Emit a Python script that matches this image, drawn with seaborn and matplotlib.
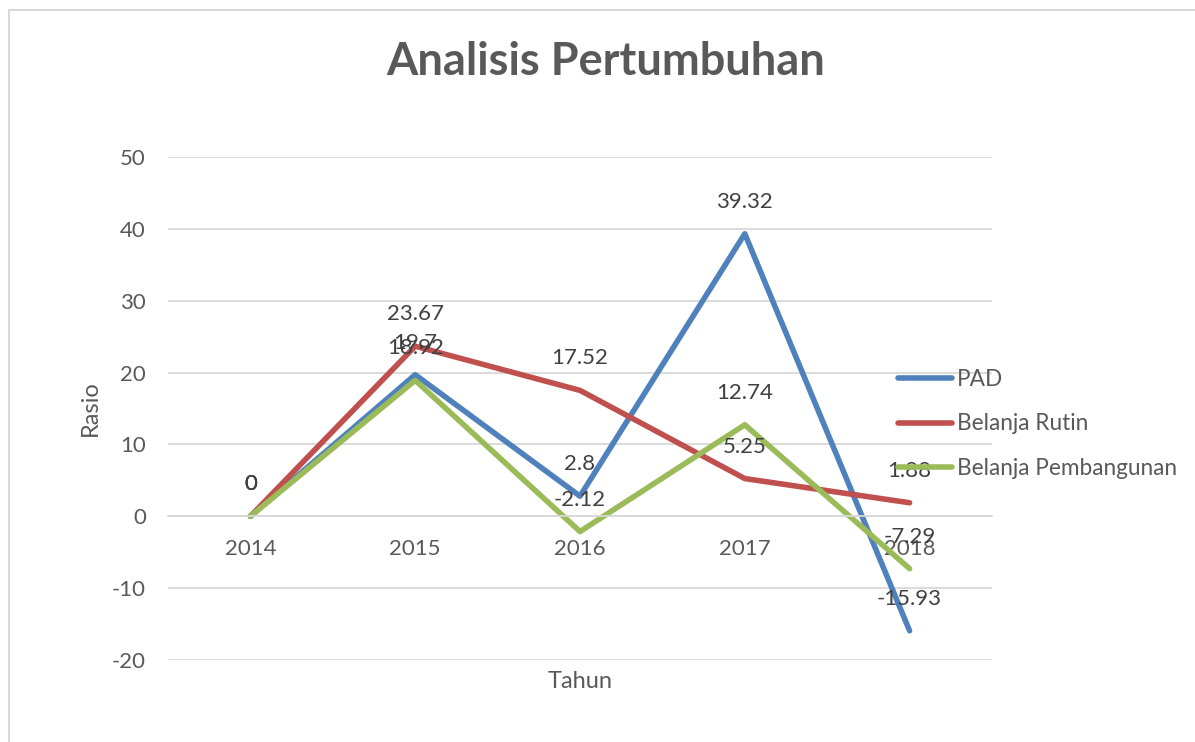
import pandas as pd
import seaborn as sns
from matplotlib import pyplot as plt
from matplotlib.patches import Rectangle

years = ["2014", "2015", "2016", "2017", "2018"]
pad = [0, 19.7, 2.8, 39.32, -15.93]
belanja_rutin = [0, 23.67, 17.52, 5.25, 1.88]
belanja_pembangunan = [0, 18.92, -2.12, 12.74, -7.29]
series_names = ["PAD", "Belanja Rutin", "Belanja Pembangunan"]
colors = ["#4F81BD", "#C0504D", "#9BBB59"]
y_ticks = [-20, -10, 0, 10, 20, 30, 40, 50]

TEXT = "#595959"
GRID = "#D9D9D9"


def main():
    sns.set_theme(style="white")
    plt.rcParams['font.family'] = ['Lato', 'DejaVu Sans']
    plt.rcParams['axes.unicode_minus'] = False

    df = pd.DataFrame({
        "Tahun": years * 3,
        "Rasio": pad + belanja_rutin + belanja_pembangunan,
        "series": [n for n in series_names for _ in years],
    })

    fig = plt.figure(figsize=(11.95, 7.42), dpi=100)
    ax = fig.add_axes([168 / 1195, 1 - 660 / 742, 824 / 1195, 503 / 742])

    sns.lineplot(ax=ax, data=df, x="Tahun", y="Rasio", hue="series",
                 hue_order=series_names, palette=colors, linewidth=4.0,
                 sort=False, legend=True)
    for line in ax.lines:
        line.set_solid_capstyle("round")
        line.set_solid_joinstyle("round")

    # data labels above each point
    for name, values in zip(series_names, [pad, belanja_rutin, belanja_pembangunan]):
        for i, v in enumerate(values):
            ax.annotate(f"{v:g}", (i, v), xytext=(0, 32), textcoords="offset pixels",
                        ha="center", va="center", fontsize=16, color="#404040")

    ax.set_xlim(-0.5, 4.5)
    ax.set_ylim(-20, 50)
    ax.set_yticks(y_ticks)
    ax.yaxis.grid(True, color=GRID, linewidth=1.3)
    ax.set_axisbelow(True)
    for s in ["top", "right", "left"]:
        ax.spines[s].set_visible(False)
    ax.spines["bottom"].set_position(("data", 0))
    ax.spines["bottom"].set_color(GRID)
    ax.spines["bottom"].set_linewidth(1.3)
    ax.tick_params(axis="x", length=0, pad=16, labelsize=16, labelcolor=TEXT)
    ax.tick_params(axis="y", length=0, pad=16, labelsize=16, labelcolor=TEXT)

    ax.set_xlabel("Tahun", fontsize=17, color=TEXT)
    ax.set_ylabel("Rasio", fontsize=17, color=TEXT)
    ax.xaxis.set_label_coords(0.5, (660 - 671) / 503)
    ax.yaxis.set_label_coords((101 - 168) / 824, 0.5)

    ax.legend(loc="center left", bbox_to_anchor=(898 / 1195, 1 - 424 / 742),
              bbox_transform=fig.transFigure, frameon=False, fontsize=16.3,
              handlelength=2.4, handletextpad=0.2, labelspacing=1.05,
              borderpad=0, borderaxespad=0, labelcolor=TEXT)

    fig.text(606 / 1195, 1 - 62 / 742, "Analisis Pertumbuhan", ha="center", va="center",
             fontsize=32.5, fontweight="bold", color=TEXT)

    fig.patches.append(Rectangle((8.5 / 1195, -0.05), 1.1, 1.05 - 9.5 / 742,
                                 transform=fig.transFigure, fill=False,
                                 edgecolor="#D9D9D9", linewidth=1.5))

    fig.savefig("out.png", dpi=100)


if __name__ == '__main__':
    main()
